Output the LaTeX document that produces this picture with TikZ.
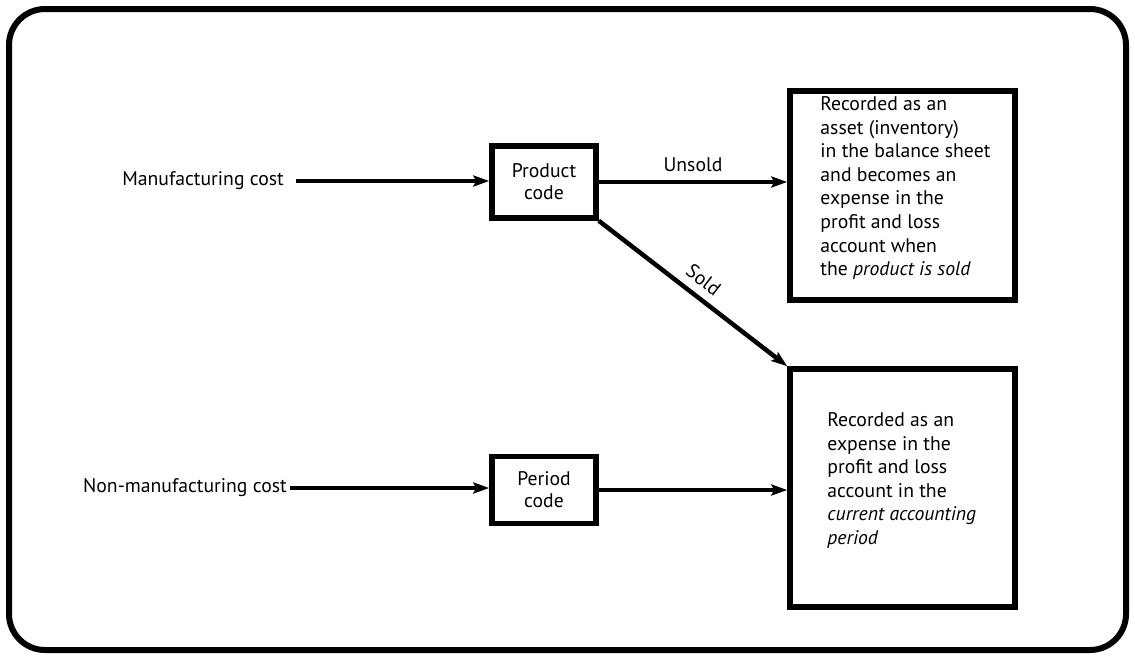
\documentclass[tikz,border=0pt]{standalone}
\usepackage{fontspec}
\setmainfont{PT Sans}
\usetikzlibrary{arrows.meta}
\begin{document}
\begin{tikzpicture}[x=1pt,y=-1pt,
  txt/.style={font=\fontsize{19.7}{23.6}\selectfont, inner sep=0pt},
  codebox/.style={draw, line width=5.5pt, minimum width=104pt, minimum height=72pt,
    align=center, font=\fontsize{19.7}{22}\selectfont, inner sep=0pt},
  bigbox/.style={draw, line width=5.5pt, minimum width=225pt},
  arr/.style={line width=4.5pt, -{Stealth[length=16pt,width=11pt,inset=3pt]}},
  lbl/.style={font=\fontsize{19.7}{22}\selectfont, inner sep=2pt}]
\useasboundingbox (0,0) rectangle (1135,659);
% outer frame
\draw[line width=6pt, rounded corners=36pt] (9,9) rectangle (1126,650);

% code boxes
\node[codebox] (pc) at (544,182) {Product\\code};
\node[codebox, minimum height=67pt] (per) at (544,490) {Period\\code};

% outcome boxes
\node[bigbox, minimum height=209pt] (asset) at (902.5,195.5) {};
\node[bigbox, minimum height=238pt] (expense) at (902.5,488) {};

\node[txt, anchor=north west, align=left] (assettxt) at ([xshift=33pt,yshift=-8pt]asset.north west)
  {Recorded as an\\asset (inventory)\\in the balance sheet\\and becomes an\\expense in the\\profit and loss\\account when\\the \textit{product is sold}};
\node[txt, anchor=north west, align=left] (expensetxt) at ([xshift=40pt,yshift=-46pt]expense.north west)
  {Recorded as an\\expense in the\\profit and loss\\account in the\\\textit{current accounting}\\\textit{period}};

% cost labels
\node[txt, anchor=east] (mc) at (284,181) {Manufacturing cost};
\node[txt, anchor=east] (nmc) at (287,488) {Non-manufacturing cost};

% connectors
\draw[arr] ([xshift=12pt]mc.east) -- (mc.east -| pc.west);
\draw[arr] ([xshift=3pt]nmc.east) -- (nmc.east -| per.west);
\draw[arr] (pc.east) -- node[lbl, above, yshift=6pt] {Unsold} (pc.east -| asset.west);
\draw[arr] (pc.south east) -- node[lbl, sloped, above, yshift=6pt] {Sold} (expense.north west);
\draw[arr] (per.east) -- (per.east -| expense.west);
\end{tikzpicture}
\end{document}
